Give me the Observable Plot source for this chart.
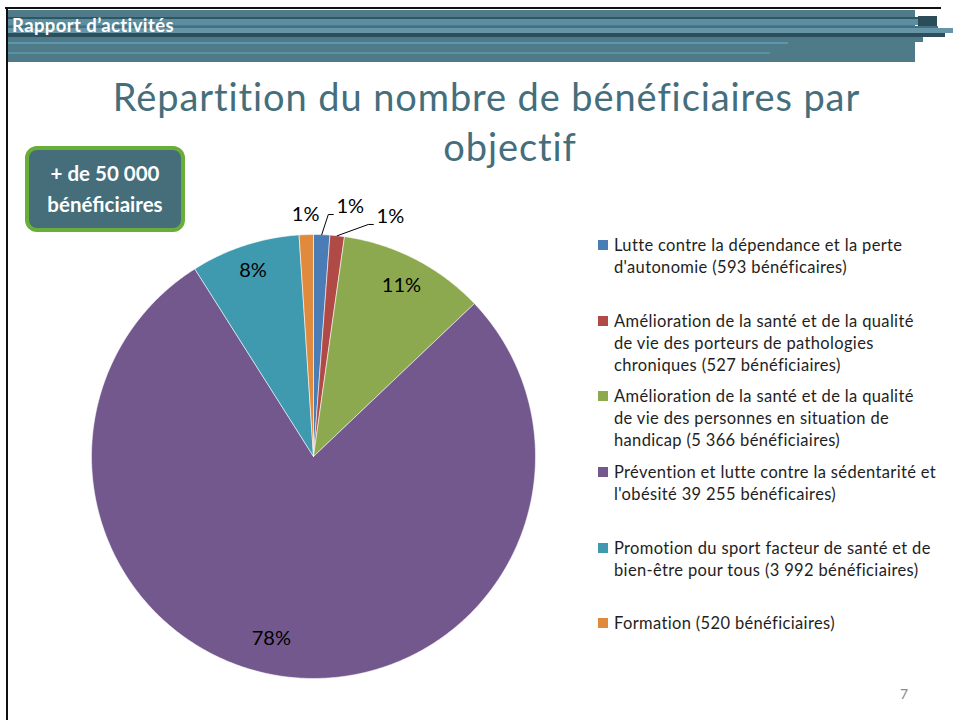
<!DOCTYPE html>
<html><head><meta charset="utf-8">
<script src="https://cdn.jsdelivr.net/npm/d3@7"></script>
<script src="https://cdn.jsdelivr.net/npm/@observablehq/plot@0.6"></script>
<style>
body{margin:0;background:#fff;}
#slide{position:relative;width:953px;height:720px;overflow:hidden;font-family:Lato,"Open Sans",sans-serif;background:#fff;}
.a{position:absolute;}
.leg{position:absolute;left:614px;font-size:16.5px;letter-spacing:0.35px;line-height:22px;color:#1e1e1e;white-space:nowrap;}
.sw{position:absolute;left:598px;width:10px;height:10px;}
</style></head><body><div id="slide"></div>
<script>
// ---- data ----
const categories = [
  "Lutte contre la dépendance et la perte d'autonomie",
  "Amélioration de la santé et de la qualité de vie des porteurs de pathologies chroniques",
  "Amélioration de la santé et de la qualité de vie des personnes en situation de handicap",
  "Prévention et lutte contre la sédentarité et l'obésité",
  "Promotion du sport facteur de santé et de bien-être pour tous",
  "Formation"
];
const values = [593, 527, 5366, 39255, 3992, 520];
const percentLabels = ["1%", "1%", "11%", "78%", "8%", "1%"];
const colors = ["#4A7DB5", "#B04A47", "#8DA94F", "#73588E", "#3F9AB0", "#E08A3E"];
const legendLines = [
  ["Lutte contre la dépendance et la perte", "d'autonomie (593 bénéficaires)"],
  ["Amélioration de la santé et de la qualité", "de vie des porteurs de pathologies", "chroniques (527 bénéficiaires)"],
  ["Amélioration de la santé et de la qualité", "de vie des personnes en situation de", "handicap (5 366 bénéficiaires)"],
  ["Prévention et lutte contre la sédentarité et", "l'obésité 39 255 bénéficaires)"],
  ["Promotion du sport facteur de santé et de", "bien-être pour tous (3 992 bénéficiaires)"],
  ["Formation (520 bénéficiaires)"]
];
const titleLines = ["Répartition du nombre de bénéficiaires par", "objectif"];
const badgeLines = ["+ de 50 000", "bénéficiaires"];
const headerText = "Rapport d’activités";
const pageNumber = "7";

// ---- layout (styling/placement only) ----
const legendTops = [234, 310, 385, 461, 537, 612];
const labelLayout = [
  {leader: true, elbowAngle: 3.5, elbowR: 1.092},
  {leader: true, elbowAngle: 13.3, elbowR: 1.074},
  {r: 0.865, tweak: 0},
  {r: 0.84, tweak: 6},
  {r: 0.88, tweak: 0},
  {r: 1.09, tweak: 0}
];

const slide = document.getElementById("slide");
function add(html){ slide.insertAdjacentHTML("beforeend", html); }

// header stripes
const stripes = [
  [8, 10, 907, 52, "#4F7B89"],
  [8, 17, 917, 2, "#2F5664"],
  [8, 19, 910, 6, "#5B8EA0"],
  [918, 16, 19, 10, "#2A4D59"],
  [8, 26, 930, 2, "#44707F"],
  [8, 28, 945, 5, "#6496A8"],
  [8, 33, 937, 4, "#2C4F5B"],
  [8, 37, 915, 5, "#4E7B8A"],
  [8, 42, 780, 2, "#5E97AA"],
  [8, 52, 762, 2, "#5A92A5"]
];
stripes.forEach(([x,y,w,h,c]) => add(`<div class="a" style="left:${x}px;top:${y}px;width:${w}px;height:${h}px;background:${c}"></div>`));
add(`<div class="a" style="left:5px;top:7px;width:936px;height:2px;background:#111"></div>`);
add(`<div class="a" style="left:6px;top:8px;width:2px;height:712px;background:#111"></div>`);
add(`<div class="a" style="left:12px;top:13px;font-size:18.5px;letter-spacing:0.4px;font-weight:700;color:#fff;line-height:24px;white-space:nowrap">${headerText}</div>`);

// title
add(`<div class="a" style="left:40px;width:893px;top:73px;text-align:center;font-size:38px;letter-spacing:0.9px;line-height:46px;color:#456E7D;white-space:nowrap">${titleLines[0]}</div>`);
add(`<div class="a" style="left:310px;width:400px;top:123px;text-align:center;font-size:38px;letter-spacing:0.9px;line-height:46px;color:#456E7D;white-space:nowrap">${titleLines[1]}</div>`);

// badge
add(`<div class="a" style="left:25px;top:146px;width:152px;border:4px solid #6AAE3A;border-radius:12px;background:#456E7A;color:#fff;font-weight:700;font-size:20.5px;line-height:31px;text-align:center;padding-top:8px;box-sizing:content-box;height:70px">${badgeLines.join("<br>")}</div>`);

// legend
legendLines.forEach((lines, i) => {
  add(`<div class="sw" style="top:${legendTops[i]+6}px;background:${colors[i]}"></div>`);
  add(`<div class="leg" style="top:${legendTops[i]}px">${lines.join("<br>")}</div>`);
});
add(`<div class="a" style="left:900px;top:685px;font-size:14px;color:#8a8a8a">${pageNumber}</div>`);

// ---- pie via Plot ----
const R = 222;
const W = 520, H = 540;
const cx = 313, cy = 456;
const total = d3.sum(values);
let acc = 0;
const slices = values.map((v, i) => {
  const a0 = acc / total * 360; acc += v; const a1 = acc / total * 360;
  return {i, name: categories[i], color: colors[i], a0, a1, mid: (a0 + a1) / 2};
});
const rad = d => d * Math.PI / 180;
const pol = (ang, r) => [Math.sin(rad(ang)) * r, Math.cos(rad(ang)) * r];
const piePts = [];
slices.forEach(s => {
  piePts.push({name: s.name, color: s.color, x: 0, y: 0});
  const n = Math.max(2, Math.ceil((s.a1 - s.a0) / 0.5));
  for (let k = 0; k <= n; k++) {
    const [x, y] = pol(s.a0 + (s.a1 - s.a0) * k / n, 1);
    piePts.push({name: s.name, color: s.color, x, y});
  }
  piePts.push({name: s.name, color: s.color, x: 0, y: 0});
});
const textPts = [], leaderPts = [];
slices.forEach((s, i) => {
  const L = labelLayout[i];
  if (L.leader) {
    const [ex, ey] = pol(s.mid, 1.0);
    const [bx, by] = pol(L.elbowAngle, L.elbowR);
    const endX = bx + 5 / R;
    leaderPts.push({k: i, x: ex, y: ey}, {k: i, x: bx, y: by}, {k: i, x: endX, y: by});
    textPts.push({x: endX + 17 / R, y: by + 8 / R, t: percentLabels[i]});
  } else {
    const [x, y] = pol(s.mid + L.tweak, L.r);
    textPts.push({x, y, t: percentLabels[i]});
  }
});
const pie = Plot.plot({
  width: W, height: H, margin: 0,
  x: {domain: [-W / 2 / R, W / 2 / R], axis: null},
  y: {domain: [-H / 2 / R, H / 2 / R], axis: null},
  style: {background: "transparent", overflow: "visible"},
  marks: [
    Plot.line(piePts, {x: "x", y: "y", z: "name", fill: "color", stroke: "#ffffff", strokeOpacity: 0.7, strokeWidth: 0.8, curve: "linear"}),
    Plot.line(leaderPts, {x: "x", y: "y", z: "k", stroke: "#000", strokeWidth: 1}),
    Plot.text(textPts, {x: "x", y: "y", text: "t", fontSize: 20, fill: "#000", fontFamily: "Lato, 'Open Sans', sans-serif"})
  ]
});
pie.style.position = "absolute";
pie.style.left = (cx - W / 2) + "px";
pie.style.top = (cy - H / 2) + "px";
slide.appendChild(pie);
</script></body></html>
